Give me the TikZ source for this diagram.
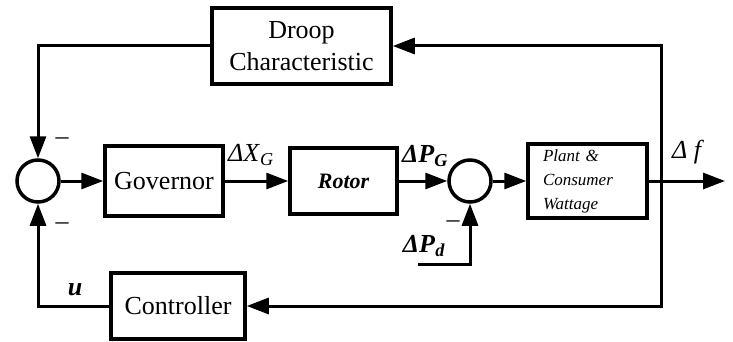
\documentclass[tikz,border=0pt]{standalone}
\usepackage{fontspec}
\setmainfont{Liberation Serif}
\usetikzlibrary{arrows.meta,positioning}

\begin{document}
\begin{tikzpicture}[x=1pt,y=-1pt,font=\fontsize{26}{32}\selectfont,
 block/.style={draw,line width=3.5pt,inner sep=0pt,align=center},
 sumc/.style={draw,circle,line width=3.5pt,minimum size=42pt,inner sep=0pt},
 sig/.style={line width=3pt,-{Triangle[length=22pt,width=16pt]}}]
\useasboundingbox (0,0) rectangle (733,342);
\node[block,minimum width=179pt,minimum height=76pt] (droop) at (301.5,46) {Droop\\Characteristic};
\node[sumc] (sum1) at (38,181) {};
\node[block,minimum width=118pt,minimum height=70pt] (gov) at (164,181) {Governor};
\node[block,minimum width=107pt,minimum height=66pt,font=\fontsize{22}{26}\selectfont\bfseries\itshape] (rotor) at (343.5,181) {Rotor};
\node[sumc] (sum2) at (470,181) {};
\node[block,text width=89pt,inner xsep=15pt,minimum height=74pt,align=left,font=\fontsize{17}{24}\selectfont\itshape] (plant) at (587.5,181) {Plant \&\\Consumer\\Wattage};
\node[block,minimum width=134pt,minimum height=66pt] (ctrl) at (178,306) {Controller};
\coordinate (tap) at (661,181);
\coordinate (out) at (725,181);
\coordinate (pd) at (418,264);
\draw[sig] (sum1) -- (gov);
\draw[sig] (gov) -- (rotor);
\draw[sig] (rotor) -- (sum2);
\draw[sig] (sum2) -- (plant);
\draw[sig] (plant) -- (out);
\draw[sig] (tap) |- (droop);
\draw[sig] (droop) -| (sum1);
\draw[sig] (tap) |- (ctrl);
\draw[sig] (ctrl) -| (sum1);
\draw[sig] (pd) -| (sum2);
% signs and signal names
\node (mtop) at (62,141) {--};
\node (mbot) at (62,226) {--};
\node (mpd) at (453,224) {--};
\node (lu) at (75,290) {\textbf{\textit{u}}};
\node (lxg) at (251,155) {\textit{ΔX}\textsubscript{\textit{G}}};
\node (lpg) at (425,156) {\textbf{\textit{ΔP}\textsubscript{\textit{G}}}};
\node (lpd) at (424,246) {\textbf{\textit{ΔP}\textsubscript{\textit{d}}}};
\node (lf) at (688,152) {\textit{Δ f}};
\end{tikzpicture}
\end{document}
